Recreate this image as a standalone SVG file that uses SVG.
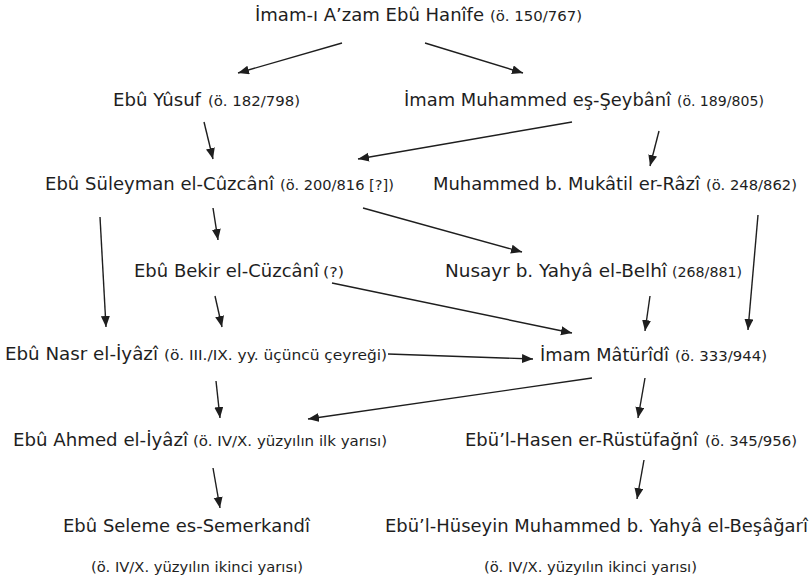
<svg xmlns="http://www.w3.org/2000/svg" width="810" height="582" viewBox="0 0 810 582">
<style>
.m{font-family:"DejaVu Sans","Verdana",sans-serif;font-size:17.5px;fill:#1e1e1e}
.p{font-family:"DejaVu Sans","Verdana",sans-serif;font-size:13.5px;fill:#1e1e1e}
.c line{stroke:#1e1e1e;stroke-width:1.4;marker-end:url(#ah)}
</style>
<defs>
<marker id="ah" markerUnits="userSpaceOnUse" markerWidth="12" markerHeight="10" refX="11" refY="4.5" orient="auto">
<path d="M0,0 L11,4.5 L0,9 z" fill="#1e1e1e"/>
</marker>
</defs>
<rect width="810" height="582" fill="#fff"/>
<g id="n-hanife"><text class="m" x="255" y="21" textLength="229" lengthAdjust="spacingAndGlyphs">İmam-ı A’zam Ebû Hanîfe</text><text class="p" x="490" y="21" textLength="92" lengthAdjust="spacingAndGlyphs">(ö. 150/767)</text></g>
<g id="n-yusuf"><text class="m" x="113" y="106" textLength="88" lengthAdjust="spacingAndGlyphs">Ebû Yûsuf</text><text class="p" x="208" y="106" textLength="92" lengthAdjust="spacingAndGlyphs">(ö. 182/798)</text></g>
<g id="n-seybani"><text class="m" x="404" y="106" textLength="267" lengthAdjust="spacingAndGlyphs">İmam Muhammed eş-Şeybânî</text><text class="p" x="677" y="106" textLength="87" lengthAdjust="spacingAndGlyphs">(ö. 189/805)</text></g>
<g id="n-suleyman"><text class="m" x="45" y="190" textLength="229" lengthAdjust="spacingAndGlyphs">Ebû Süleyman el-Cûzcânî</text><text class="p" x="280" y="190" textLength="114" lengthAdjust="spacingAndGlyphs">(ö. 200/816 [?])</text></g>
<g id="n-razi"><text class="m" x="433" y="190" textLength="267" lengthAdjust="spacingAndGlyphs">Muhammed b. Mukâtil er-Râzî</text><text class="p" x="706" y="190" textLength="91" lengthAdjust="spacingAndGlyphs">(ö. 248/862)</text></g>
<g id="n-bekir"><text class="m" x="134" y="277" textLength="185" lengthAdjust="spacingAndGlyphs">Ebû Bekir el-Cüzcânî</text><text class="p" x="323" y="277" textLength="21" lengthAdjust="spacingAndGlyphs">(?)</text></g>
<g id="n-nusayr"><text class="m" x="445" y="277" textLength="222" lengthAdjust="spacingAndGlyphs">Nusayr b. Yahyâ el-Belhî</text><text class="p" x="672" y="277" textLength="70" lengthAdjust="spacingAndGlyphs">(268/881)</text></g>
<g id="n-nasr"><text class="m" x="5" y="360" textLength="153" lengthAdjust="spacingAndGlyphs">Ebû Nasr el-İyâzî</text><text class="p" x="164" y="360" textLength="223" lengthAdjust="spacingAndGlyphs">(ö. III./IX. yy. üçüncü çeyreği)</text></g>
<g id="n-maturidi"><text class="m" x="540" y="361" textLength="129" lengthAdjust="spacingAndGlyphs">İmam Mâtürîdî</text><text class="p" x="675" y="361" textLength="92" lengthAdjust="spacingAndGlyphs">(ö. 333/944)</text></g>
<g id="n-ahmed"><text class="m" x="13" y="446" textLength="175" lengthAdjust="spacingAndGlyphs">Ebû Ahmed el-İyâzî</text><text class="p" x="193" y="446" textLength="194" lengthAdjust="spacingAndGlyphs">(ö. IV/X. yüzyılın ilk yarısı)</text></g>
<g id="n-rustufagni"><text class="m" x="465" y="446" textLength="233" lengthAdjust="spacingAndGlyphs">Ebü’l-Hasen er-Rüstüfağnî</text><text class="p" x="705" y="446" textLength="92" lengthAdjust="spacingAndGlyphs">(ö. 345/956)</text></g>
<g id="n-seleme"><text class="m" x="63" y="532" textLength="247" lengthAdjust="spacingAndGlyphs">Ebû Seleme es-Semerkandî</text><text class="p" x="91" y="572" textLength="212" lengthAdjust="spacingAndGlyphs">(ö. IV/X. yüzyılın ikinci yarısı)</text></g>
<g id="n-besagari"><text class="m" x="385" y="532" textLength="423" lengthAdjust="spacingAndGlyphs">Ebü’l-Hüseyin Muhammed b. Yahyâ el-Beşâğarî</text><text class="p" x="484" y="572" textLength="213" lengthAdjust="spacingAndGlyphs">(ö. IV/X. yüzyılın ikinci yarısı)</text></g>
<g id="connectors" class="c">
<line x1="342" y1="43" x2="238" y2="73"/>
<line x1="425" y1="43" x2="523" y2="73"/>
<line x1="204" y1="122" x2="213" y2="159"/>
<line x1="572" y1="122" x2="358" y2="159"/>
<line x1="659" y1="131" x2="650" y2="166"/>
<line x1="213" y1="208" x2="218" y2="240"/>
<line x1="363" y1="208" x2="522" y2="252"/>
<line x1="100" y1="217" x2="106" y2="327"/>
<line x1="758" y1="215" x2="748" y2="330"/>
<line x1="332" y1="283" x2="572" y2="333"/>
<line x1="215" y1="296" x2="222" y2="327"/>
<line x1="650" y1="296" x2="645" y2="331"/>
<line x1="388" y1="354" x2="533" y2="359"/>
<line x1="592" y1="378" x2="308" y2="419"/>
<line x1="216" y1="381" x2="220" y2="418"/>
<line x1="645" y1="378" x2="638" y2="418"/>
<line x1="213" y1="468" x2="220" y2="508"/>
<line x1="644" y1="460" x2="637" y2="499"/>
</g>
</svg>
